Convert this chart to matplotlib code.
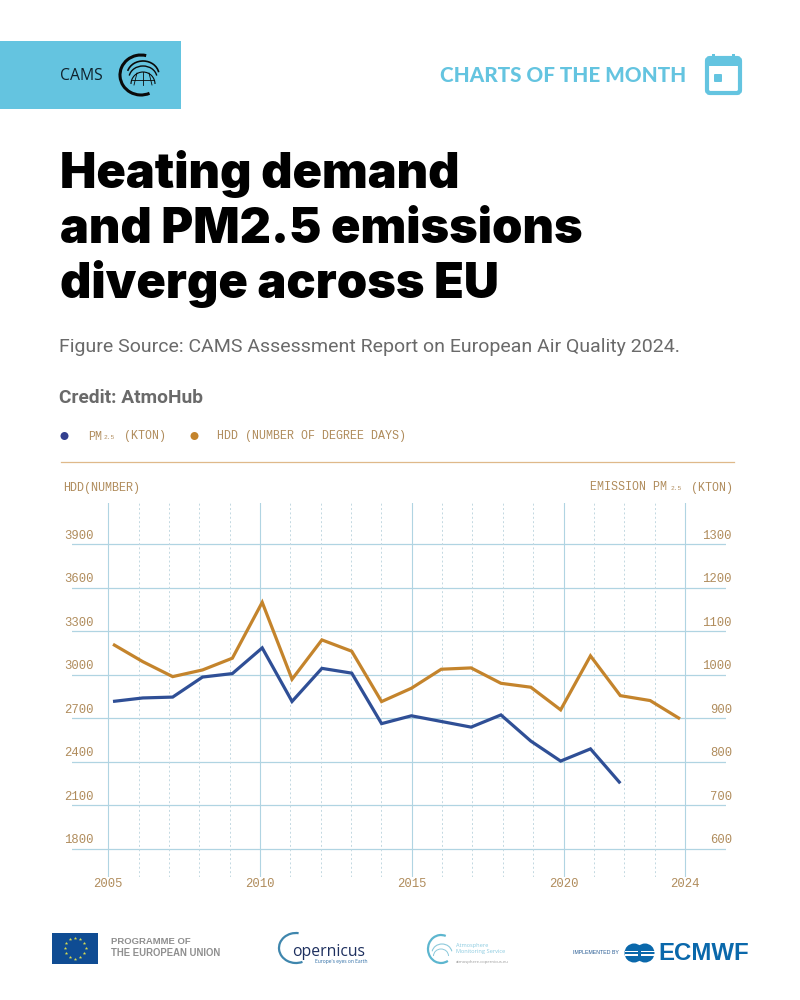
import numpy as np
import matplotlib
matplotlib.use('Agg')
import matplotlib.pyplot as plt
from matplotlib.patches import Rectangle, Circle, Arc, FancyBboxPatch

years = [2005, 2006, 2007, 2008, 2009, 2010, 2011, 2012, 2013, 2014,
         2015, 2016, 2017, 2018, 2019, 2020, 2021, 2022, 2023, 2024]
hdd = [3211, 3091, 2988, 3034, 3115, 3500, 2970, 3241, 3163, 2816,
       2908, 3039, 3048, 2942, 2915, 2759, 3131, 2857, 2823, 2697]
pm25 = [939, 947, 949, 995, 1003, 1062, 939, 1015, 1004, 888,
        906, 893, 880, 908, 848, 802, 830, 751]
hdd_ticks = [1800, 2100, 2400, 2700, 3000, 3300, 3600, 3900]
pm_ticks = [600, 700, 800, 900, 1000, 1100, 1200, 1300]
year_labels = [2005, 2010, 2015, 2020, 2024]

BLUE = '#2f4f96'
ORANGE = '#c4842c'
TAN = '#b08c5c'
SKY = '#64c4e0'
GREY = '#6a6a6a'
SOLID_GRID = '#b0d4e2'
DOT_GRID = '#c2d8e1'
MONO = 'Liberation Mono'

W, H = 800, 1000
fig = plt.figure(figsize=(8, 10), dpi=100, facecolor='white')


def px_pos(left, top, right, bottom):
    return [left / W, 1 - bottom / H, (right - left) / W, (bottom - top) / H]


# page furniture, in pixels
bg = fig.add_axes([0, 0, 1, 1])
bg.set_xlim(0, W)
bg.set_ylim(H, 0)
bg.axis('off')

INK = '#0a0a0a'
bg.add_patch(Rectangle((0, 41), 181, 68, color=SKY, lw=0))
bg.text(60, 75.5, 'CAMS', family='Open Sans', fontsize=11.3, color='#10222c', va='center')
bg.add_patch(Arc((141, 75), 42, 40, theta1=65, theta2=285, color=INK, lw=2.2))
bg.add_patch(Arc((143, 75), 32, 28, theta1=195, theta2=350, color=INK, lw=1.2))
bg.add_patch(Arc((143, 78), 28, 24, theta1=190, theta2=350, color=INK, lw=1.0))
bg.add_patch(Arc((143, 84), 24, 24, theta1=180, theta2=360, color=INK, lw=0.8))
bg.plot([132, 154], [80, 80], color=INK, lw=0.6)
bg.plot([137, 134], [73, 85], color=INK, lw=0.6)
bg.plot([149, 152], [73, 85], color=INK, lw=0.6)
bg.plot([143, 143], [72, 85], color=INK, lw=0.6)

bg.text(440, 75, 'CHARTS OF THE MONTH', family='Lato', weight=900, fontsize=14.9,
        color=SKY, va='center')
bg.add_patch(FancyBboxPatch((707, 58), 33, 35, boxstyle='round,pad=0,rounding_size=3',
                            fc='white', ec=SKY, lw=3))
bg.add_patch(Rectangle((706, 58), 35, 8, color=SKY, lw=0))
bg.add_patch(Rectangle((712, 53.5), 3, 6, color=SKY, lw=0))
bg.add_patch(Rectangle((732, 53.5), 3, 6, color=SKY, lw=0))
bg.add_patch(FancyBboxPatch((714, 74), 8, 8, boxstyle='round,pad=0,rounding_size=1',
                            fc=SKY, ec='none'))

for line, base in zip(['Heating demand', 'and PM2.5 emissions', 'diverge across EU'],
                      [188, 243, 298]):
    bg.text(60, base, line, family='Inter', weight=900, fontsize=35, color='black',
            va='baseline')

bg.text(59, 352, 'Figure Source: CAMS Assessment Report on European Air Quality 2024.',
        family='Roboto', fontsize=14, color=GREY, va='baseline')
bg.text(59, 403, 'Credit: AtmoHub', family='Roboto', weight='bold', fontsize=13.8,
        color=GREY, va='baseline')

# legend
bg.add_patch(Circle((64.5, 436), 4, color='#33408f', lw=0))
bg.text(88, 436.5, 'PM', family=MONO, fontsize=8.4, color=TAN, va='center')
bg.text(104, 437.5, '2.5', family=MONO, fontsize=4.5, color=TAN, va='center')
bg.text(124, 436.5, '(KTON)', family=MONO, fontsize=8.4, color=TAN, va='center')
bg.add_patch(Circle((194.5, 436), 4, color=ORANGE, lw=0))
bg.text(217, 436.5, 'HDD (NUMBER OF DEGREE DAYS)', family=MONO, fontsize=8.4, color=TAN,
        va='center')
bg.plot([61, 734], [461.5, 461.5], color='#dfb98a', lw=0.9)

bg.text(63, 488, 'HDD(NUMBER)', family=MONO, fontsize=8.5, color=TAN, va='center')
bg.text(733, 487.5, '(KTON)', family=MONO, fontsize=8.4, color=TAN, va='center', ha='right')
bg.text(590, 487.5, 'EMISSION PM', family=MONO, fontsize=8.4, color=TAN, va='center')
bg.text(671, 488.5, '2.5', family=MONO, fontsize=4.5, color=TAN, va='center')

# footer logos
bg.add_patch(Rectangle((52, 932.5), 46, 31, color='#0f4c93', lw=0))
for a in np.arange(0, 360, 30):
    bg.plot(75 + 10.5 * np.cos(np.radians(a)), 948 + 10.5 * np.sin(np.radians(a)), '*',
            color='#d9dc50', ms=2.6, mew=0)
bg.text(111, 942, 'PROGRAMME OF', family='Liberation Sans', weight='bold', fontsize=6.8,
        color='#8f8f8f', va='center')
bg.text(111, 953, 'THE EUROPEAN UNION', family='Liberation Sans', weight='bold', fontsize=6.85,
        color='#8f8f8f', va='center')

bg.add_patch(Arc((296, 948), 34, 30, theta1=65, theta2=280, color='#3f86ad', lw=1.6))
bg.text(292, 952, 'opernicus', family='Open Sans', fontsize=11.3, color='#1d2f5e', va='center')
bg.text(315, 961, "Europe's eyes on Earth", family='Open Sans', fontsize=3.6, color='#2f6ea6',
        va='center')

bg.add_patch(Arc((441, 949), 26, 28, theta1=60, theta2=290, color='#5db6cf', lw=1.6))
bg.add_patch(Arc((442, 953), 20, 18, theta1=190, theta2=350, color='#8cc9db', lw=0.8))
bg.add_patch(Arc((441, 956), 15, 14, theta1=180, theta2=360, color='#8cc9db', lw=0.7))
bg.text(455.5, 945.5, 'Atmosphere', family='Open Sans', fontsize=4.1, color='#8ccbe0', va='center')
bg.text(455.5, 951.5, 'Monitoring Service', family='Open Sans', fontsize=4.1, color='#8ccbe0',
        va='center')
bg.text(455.5, 961.5, 'atmosphere.copernicus.eu', family='Open Sans', fontsize=3.1,
        color='#9a9a9a', va='center')

bg.text(573, 953, 'IMPLEMENTED BY', family='Liberation Sans', fontsize=3.8, color='#2a5d94',
        va='center')
for cx in [634, 645]:
    bg.add_patch(Circle((cx, 953), 9.5, color='#0a68ab', lw=0))
bg.add_patch(Rectangle((625, 950.5), 13, 1.5, color='white', lw=0))
bg.add_patch(Rectangle((625, 954), 13, 1.5, color='white', lw=0))
bg.add_patch(Rectangle((641, 950.5), 14, 1.5, color='white', lw=0))
bg.add_patch(Rectangle((641, 954), 14, 1.5, color='white', lw=0))
bg.text(658, 953, 'ECMWF', family='Liberation Sans', weight='bold', fontsize=17.3, color='#0a68ab',
        va='center')

# chart grid on a year axis
ax = fig.add_axes(px_pos(72, 502.7, 726, 876.7), frameon=False)
px_per_year = 30.35
ax.set_xlim(2005 - (108.3 - 72) / px_per_year, 2005 + (726 - 108.3) / px_per_year)
px_per_hdd = 43.55 / 300
ax.set_ylim(1800 - (876.7 - 849) / px_per_hdd, 3900 + (544.3 - 502.7) / px_per_hdd)
ax.set_xticks([])
ax.set_yticks([])
for y in hdd_ticks:
    ax.axhline(y, color=SOLID_GRID, lw=0.9, zorder=1)
for yr in years:
    if yr in year_labels:
        ax.axvline(yr, color=SOLID_GRID, lw=0.8, zorder=1)
    else:
        ax.axvline(yr, color=DOT_GRID, lw=0.7, ls=(0, (2, 2.5)), zorder=1)

trans_y = ax.get_yaxis_transform()
for hv, pv in zip(hdd_ticks, pm_ticks):
    ax.annotate(str(hv), xy=(0, hv), xycoords=trans_y, xytext=(22 * 0.72, 2), textcoords='offset points',
                family=MONO, fontsize=8.8, color=TAN, ha='right', va='bottom', annotation_clip=False)
    ax.annotate(str(pv), xy=(1, hv), xycoords=trans_y, xytext=(6 * 0.72, 2), textcoords='offset points',
                family=MONO, fontsize=8.8, color=TAN, ha='right', va='bottom', annotation_clip=False)
trans_x = ax.get_xaxis_transform()
for yr in year_labels:
    ax.annotate(str(yr), xy=(yr, 0), xycoords=trans_x, xytext=(0, -5.5), textcoords='offset points',
                family=MONO, fontsize=8.8, color=TAN, ha='center', va='center', annotation_clip=False)

# the data lines sit on their own slightly narrower year scale
ax_hdd = fig.add_axes(px_pos(72, 502.7, 726, 876.7), frameon=False)
line_px = (680 - 113) / 19
ax_hdd.set_xlim(2005 - (113 - 72) / line_px, 2005 + (726 - 113) / line_px)
ax_hdd.set_ylim(ax.get_ylim())
ax_hdd.set_xticks([])
ax_hdd.set_yticks([])
ax_pm = ax_hdd.twinx()
ax_pm.set_frame_on(False)
ymin, ymax = ax.get_ylim()
ax_pm.set_ylim(600 + (ymin - 1800) / 3, 600 + (ymax - 1800) / 3)
ax_pm.set_yticks([])

ax_hdd.plot(years, hdd, color=ORANGE, lw=2.3, solid_joinstyle='miter', solid_capstyle='butt')
ax_pm.plot(years[:len(pm25)], pm25, color=BLUE, lw=2.3, solid_joinstyle='miter',
           solid_capstyle='butt')

fig.savefig('out.png', dpi=100)
